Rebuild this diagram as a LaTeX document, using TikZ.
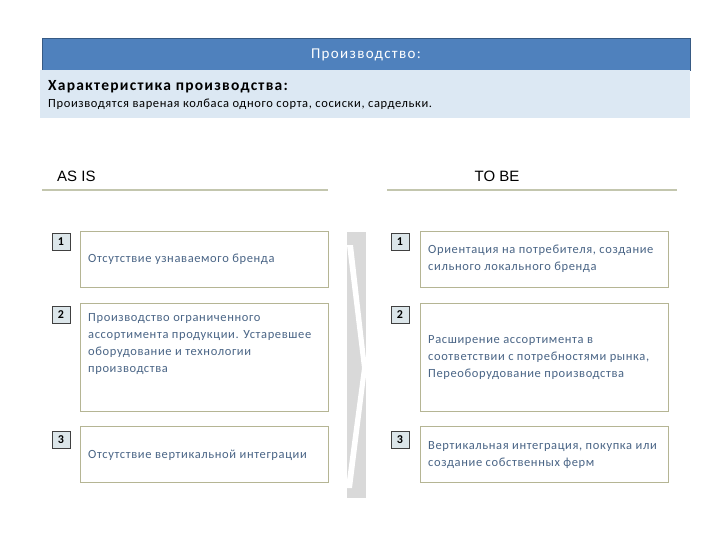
\documentclass[tikz,border=0pt]{standalone}
\usepackage{fontspec}
\setmainfont{Carlito}
\newfontfamily\arialfont{Liberation Sans}
\newfontfamily\widefont[LetterSpace=5]{Carlito}
\newfontfamily\headfont[LetterSpace=9]{Carlito}
\newfontfamily\wideboldfont[LetterSpace=8,UprightFont=* Bold]{Carlito}
\usetikzlibrary{positioning}

\definecolor{headblue}{HTML}{4F81BD}
\definecolor{bandblue}{HTML}{DCE8F3}
\definecolor{boxline}{HTML}{B5B594}
\definecolor{numfill}{HTML}{DCE6EA}
\definecolor{txtblue}{HTML}{4A6586}
\definecolor{ruleline}{HTML}{C3C6AE}
\definecolor{chevgray}{HTML}{D9D9D9}

\begin{document}
\begin{tikzpicture}[x=1pt, y=-1pt,
  txtbox/.style={draw=boxline, line width=0.8pt, fill=white,
    minimum width=248pt, inner sep=0pt},
  numbox/.style={draw=black!75, fill=numfill, line width=0.8pt,
    minimum width=18pt, minimum height=17pt, inner sep=0pt,
    font=\fontsize{12}{12}\selectfont\bfseries},
  boxtext/.style={anchor=west, align=left, inner sep=0pt, text=txtblue,
    font=\widefont\fontsize{12.5}{17}\selectfont},
  rulehead/.style={draw=ruleline, line width=2pt}]
  \useasboundingbox (0,0) rectangle (720,540);

  % header
  \node[fill=headblue, draw=headblue!70!black, minimum width=648pt,
    minimum height=32pt, inner sep=0pt] (head) at (366,54) {};
  \node[text=white, font=\headfont\fontsize{15}{16}\selectfont] (headtxt)
    at (366,55) {Производство:};
  \node[fill=bandblue, minimum width=650pt, minimum height=48pt,
    inner sep=0pt, anchor=north] (band) at (365,70) {};
  \node[anchor=west, inner sep=0pt, font=\wideboldfont\fontsize{15.5}{16}\selectfont]
    (chartitle) at (48,87) {Характеристика производства:};
  \node[anchor=west, inner sep=0pt, font=\widefont\fontsize{12.5}{14}\selectfont]
    (chartext) at (48,104) {Производятся вареная колбаса одного сорта, сосиски, сардельки.};

  % column heads
  \node[anchor=west, inner sep=0pt, font=\arialfont\fontsize{15}{16}\selectfont]
    (asis) at (57,176) {AS IS};
  \node[inner sep=0pt, font=\arialfont\fontsize{15}{16}\selectfont]
    (tobe) at (497,176) {TO BE};
  \coordinate (asisa) at (42,190);
  \coordinate (asisb) at (328,190);
  \coordinate (tobea) at (387,190);
  \coordinate (tobeb) at (677,190);
  \draw[rulehead] (asisa) -- (asisb);
  \draw[rulehead] (tobea) -- (tobeb);

  % chevron
  \fill[chevgray] (347,232) rectangle (366,498);
  \fill[white] (347,245) -- (353,245) -- (367,368) -- (352,488)
    -- (346,488) -- (362,368) -- cycle;

  % AS IS boxes
  \node[txtbox, minimum height=56pt] (l1) at (204,259) {};
  \node[txtbox, minimum height=108pt] (l2) at (204,357) {};
  \node[txtbox, minimum height=56pt] (l3) at (204,454) {};
  \node[numbox] (n1) at (61,242) {1};
  \node[numbox] (n2) at (61,315) {2};
  \node[numbox] (n3) at (61,440) {3};
  \node[boxtext] (l1t) at (88,259) {Отсутствие узнаваемого бренда};
  \node[boxtext, anchor=north west] (l2t) at (88,313)
    {Производство ограниченного\\ассортимента продукции. Устаревшее\\оборудование и технологии\\производства};
  \node[boxtext] (l3t) at (88,455) {Отсутствие вертикальной интеграции};

  % TO BE boxes
  \node[txtbox, minimum height=56pt] (r1) at (544,259) {};
  \node[txtbox, minimum height=108pt] (r2) at (544,357) {};
  \node[txtbox, minimum height=56pt] (r3) at (544,454) {};
  \node[numbox] (m1) at (400,242) {1};
  \node[numbox] (m2) at (400,315) {2};
  \node[numbox] (m3) at (400,440) {3};
  \node[boxtext] (r1t) at (428,259)
    {Ориентация на потребителя, создание\\сильного локального бренда};
  \node[boxtext] (r2t) at (428,358)
    {Расширение ассортимента в\\соответствии с потребностями рынка,\\Переоборудование производства};
  \node[boxtext] (r3t) at (428,455)
    {Вертикальная интеграция, покупка или\\создание собственных ферм};
\end{tikzpicture}
\end{document}
